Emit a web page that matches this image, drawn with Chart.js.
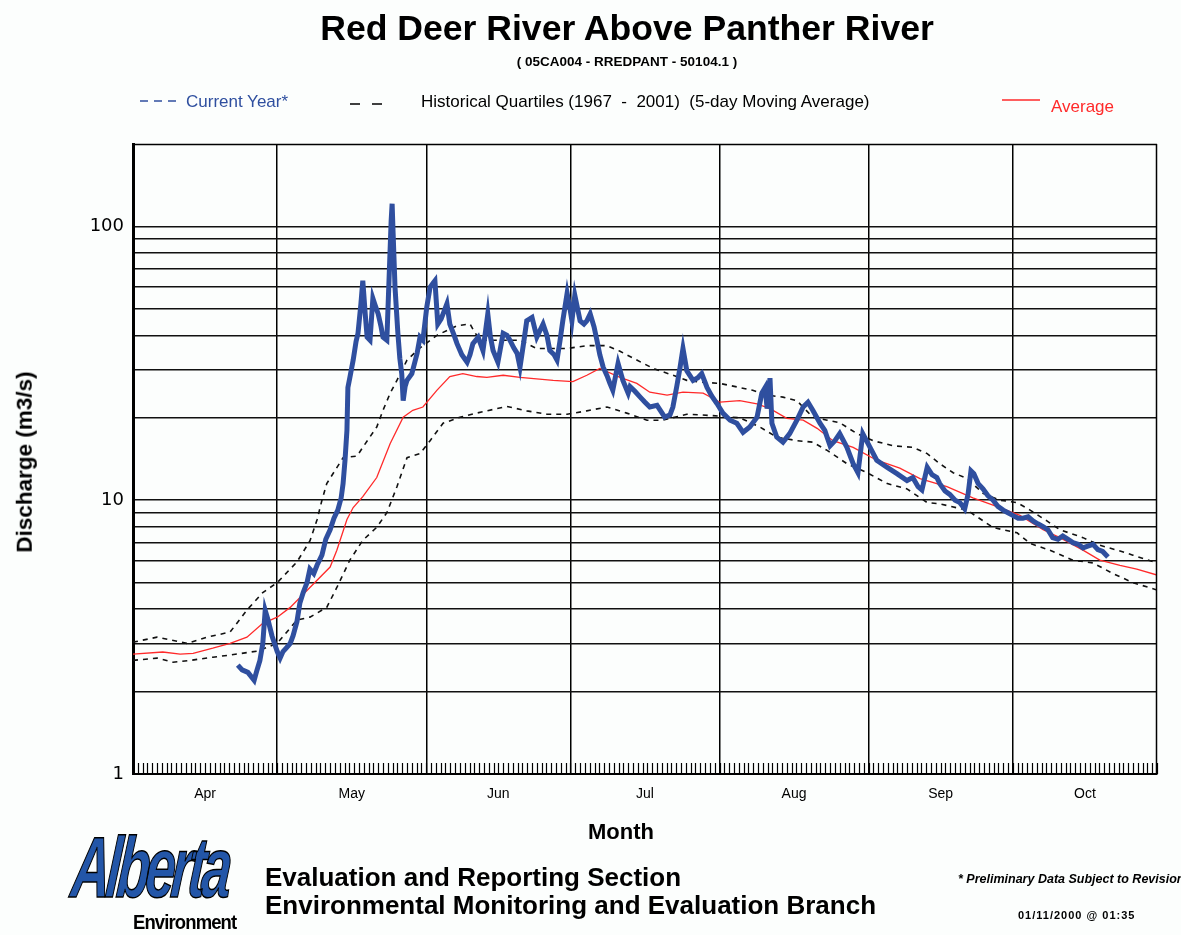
<!DOCTYPE html>
<html>
<head>
<meta charset="utf-8">
<title>Red Deer River Above Panther River</title>
<script src="https://cdn.jsdelivr.net/npm/chart.js@4.4.1/dist/chart.umd.min.js"></script>
<style>
  html, body { margin: 0; padding: 0; background: #fcfefd; }
  #page { position: relative; width: 1181px; height: 935px; overflow: hidden; background: #fcfefd; }
  #chart { position: absolute; left: 0; top: 0; }
  .txt { position: absolute; white-space: nowrap; font-family: "Liberation Sans", Arial, sans-serif; color: #000; line-height: 1; }
  #title { left: 0; width: 1254px; text-align: center; top: 11px; font-size: 35.6px; font-weight: bold; }
  #subtitle { left: 0; width: 1254px; text-align: center; top: 55px; font-size: 13.5px; font-weight: bold; transform: scaleY(0.9); }
  .legend { top: 93px; font-size: 17px; }
  #ylabel { left: 25px; top: 462px; font-size: 22.5px; font-weight: bold; transform: translate(-50%, -50%) rotate(-90deg); }
  #xlabel { left: 0; width: 1242px; text-align: center; top: 821px; font-size: 22px; font-weight: bold; }
  .section { left: 265px; font-size: 26px; font-weight: bold; }
  #logo { left: 76px; top: 824px; font-size: 86px; font-style: italic; font-weight: bold; color: #2356a8;
          -webkit-text-stroke: 1.5px #000; letter-spacing: -7px; transform-origin: left top; transform: scaleX(0.63) skewX(-8deg); }
  #env { left: 133px; top: 911px; font-size: 21px; font-weight: bold; letter-spacing: -1px; transform-origin: left top; transform: scaleX(0.88); }
  #prelim { left: 958px; top: 873px; font-size: 12.5px; font-style: italic; font-weight: bold; }
  #stamp { left: 1018px; top: 910px; font-size: 11px; font-weight: bold; letter-spacing: 1px; }
  svg.key { position: absolute; left: 0; top: 0; }
</style>
</head>
<body>
<div id="page">
  <canvas id="chart" width="1181" height="935"></canvas>

  <div class="txt" id="title">Red Deer River Above Panther River</div>
  <div class="txt" id="subtitle">( 05CA004 - RREDPANT - 50104.1 )</div>

  <svg class="key" width="1181" height="130">
    <line x1="140" y1="101" x2="176" y2="101" stroke="#2f4f9f" stroke-width="1.5" stroke-dasharray="8,6"/>
    <line x1="350" y1="104" x2="383" y2="104" stroke="#000" stroke-width="1.6" stroke-dasharray="10,12"/>
    <line x1="1002" y1="100" x2="1040" y2="100" stroke="#ff2a2a" stroke-width="1.6"/>
  </svg>
  <div class="txt legend" style="left:186px;color:#2f4f9f;">Current Year*</div>
  <div class="txt legend" style="left:421px;">Historical Quartiles (1967&nbsp; - &nbsp;2001)&nbsp; (5-day Moving Average)</div>
  <div class="txt legend" style="left:1051px;top:98px;color:#ff2a2a;">Average</div>

  <div class="txt" id="ylabel">Discharge (m3/s)</div>
  <div class="txt" id="xlabel">Month</div>

  <div class="txt" id="logo">Alberta</div>
  <div class="txt" id="env">Environment</div>
  <div class="txt section" style="top:864px;">Evaluation and Reporting Section</div>
  <div class="txt section" style="top:892px;">Environmental Monitoring and Evaluation Branch</div>
  <div class="txt" id="prelim">* Preliminary Data Subject to Revision</div>
  <div class="txt" id="stamp">01/11/2000 @ 01:35</div>
</div>

<script>
// Days are counted from 1 April (day 0) to 31 October (day 213).
const monthStartDays = [0, 30, 61, 91, 122, 153, 183, 213];
const monthNames = ['Apr', 'May', 'Jun', 'Jul', 'Aug', 'Sep', 'Oct'];

// Log-axis gridlines and the decades that carry a label.
const yGridValues = [1, 2, 3, 4, 5, 6, 7, 8, 9, 10, 20, 30, 40, 50, 60, 70, 80, 90, 100, 200];
const yLabelValues = [1, 10, 100];

// Current year discharge (m3/s)
const currentDays = [
  // late April - early May rise
  21.8, 22.7, 23.9, 25.2, 25.8, 26.4, 27.0, 27.5, 28.1, 28.9, 30.0, 30.6, 31.2, 32.0, 32.7, 33.3,
  34.1, 34.7, 35.4, 36.2, 36.8, 37.6, 38.3, 39.3, 40.1, 41.0, 41.8, 42.6, 43.3,
  // freshet: mid May - early September
  43.7, 44.1, 44.5, 44.7, 45.1, 45.8, 46.4, 46.8, 47.4, 47.8,
  48.3, 48.7, 49.3, 49.9, 50.3, 51.0, 51.6, 52.0, 52.8, 53.2,
  53.7, 53.9, 54.1, 54.5, 55.1, 55.5, 55.9, 56.2, 56.6, 57.0,
  58.0, 59.1, 59.7, 60.3, 61.1, 61.8, 62.4, 62.8, 63.4, 64.1,
  64.5, 65.3, 65.9, 66.8, 67.4, 68.4, 69.5, 70.1, 70.7, 71.8,
  72.8, 73.8, 74.3, 74.9, 75.9, 77.0, 77.8, 78.4, 79.2, 79.9,
  80.5, 81.3, 81.9, 83.0, 84.0, 85.3, 86.1, 86.7, 87.6, 88.2,
  88.8, 89.4, 90.3, 90.9, 91.3, 91.9, 93.0, 93.8, 94.4, 95.1,
  95.9, 96.5, 97.1, 97.8, 98.6, 99.2, 99.8, 100.9, 101.9, 103.0,
  103.4, 104.4, 105.5, 106.5, 107.5, 109.0, 110.6, 111.7, 112.3, 113.1,
  113.8, 114.4, 115.2, 116.5, 117.5, 118.3, 119.4, 120.4, 121.5, 122.7,
  124.2, 125.6, 126.9, 128.3, 129.8, 130.8, 131.5, 131.9, 132.5, 132.9,
  133.9, 135.2, 136.6, 138.1, 139.4, 140.4, 141.4, 142.9, 143.9, 145.0,
  146.0, 147.0, 148.5, 149.8, 150.8, 151.8, 152.9, 154.7, 156.8, 158.9,
  161.0, 162.2, 163.3, 164.1, 165.2, 166.2, 167.2,
  // September - October recession
  167.8, 168.9, 169.9, 171.0, 172.0, 173.0, 173.7, 174.3, 174.9, 175.8,
  176.8, 177.8, 178.9, 179.9, 181.0, 182.0, 183.0, 184.1, 185.1, 186.2,
  187.2, 188.2, 189.3, 190.3, 191.3, 192.4, 193.4, 194.5, 195.5, 196.6,
  197.6, 198.6, 199.7, 200.7, 201.7, 202.8
];
const currentFlow = [
  2.5, 2.4, 2.35, 2.2, 2.4, 2.6, 3.0, 3.96, 3.65, 3.2, 2.8, 2.65, 2.8, 2.9, 3.0, 3.2,
  3.6, 4.2, 4.6, 5.0, 5.6, 5.4, 5.8, 6.3, 7.2, 7.8, 8.6, 9.2, 10.2,

  11.5, 14, 18, 25.8, 28, 32.5, 38, 40.7, 52, 63.3,
  48, 39.4, 38.4, 54.6, 52, 47.9, 43, 39.4, 38.4, 60,
  105, 121, 95, 60, 40.7, 33, 29, 23.1, 26, 27.4,
  29, 34.4, 39.4, 38.4, 50.6, 60, 62, 63.3, 44, 46,
  47.9, 52.2, 44, 40, 37.3, 34, 31.9, 34, 37.3, 39.4,
  35.2, 47.9, 40, 35.2, 31.9, 40.7, 40, 38.4, 36, 34.4,
  30.6, 38, 45.2, 46.5, 39.4, 44, 40, 35.2, 34, 32.5,
  38, 45.2, 57, 50, 45.2, 56, 45.2, 44, 45.2, 47.9,
  43, 38.4, 34, 30.6, 28.5, 26.7, 25.2, 31.6, 27.4, 24.6,
  26, 25, 23.8, 22.8, 21.9, 22.2, 20.1, 20.5, 21.9, 26,
  30.6, 35.8, 29.7, 27.4, 28, 29, 25.8, 24, 22.5, 20.8,
  19.6, 19.1, 17.7, 18.5, 20.1, 24.6, 25.8, 21.6, 27.9, 19.1,
  17.0, 16.3, 17.5, 19.6, 21.9, 22.8, 21.3, 19.1, 18.0, 15.8,
  16.5, 17.5, 15.6, 13.6, 12.6, 17.5, 16.1, 14.0, 13.2, 12.5,
  11.8, 12.1, 11.2, 10.9, 13.2, 12.4, 12.1,

  11.5, 10.8, 10.5, 10, 9.8, 9.3, 10.5, 12.8, 12.5, 11.5,
  11, 10.4, 10, 9.5, 9.2, 9.0, 8.8, 8.6, 8.6, 8.7,
  8.4, 8.2, 8.0, 7.8, 7.3, 7.2, 7.4, 7.2, 7.0, 6.9,
  6.7, 6.8, 6.9, 6.6, 6.5, 6.2
];

// Historical upper quartile, 5-day moving average (1967 - 2001)
const upperDays = [
  0, 5.0, 11.2, 15.4, 20.2, 23.7, 27.0, 30.0, 34.1, 36.8, 38.3, 39.3, 40.3, 43.7, 46.6, 47.8,
  50.7, 52.0, 53.5, 54.9, 57.0, 59.7, 63.2, 67.4, 70.1, 71.1, 72.2, 77.0, 80.5, 84.0, 90.3, 94.4,
  98.6, 101.3, 104.8, 108.2, 112.3, 115.2, 117.9, 122.1, 126.2, 128.9, 131.9, 135.2, 138.1, 141.4, 144.4, 147.0,
  150.6, 153.9, 158.1, 162.2, 165.2, 167.8, 170.6, 173.5, 176.8, 180.3, 183.9, 186.6, 190.1, 192.8, 197.6, 201.1,
  204.7, 208.0, 213
];
const upperFlow = [
  3.03, 3.16, 3.0, 3.16, 3.3, 3.97, 4.6, 5.0, 5.95, 7.1, 8.5, 10, 11.5, 14.3, 14.5, 15.6,
  18.5, 21.3, 24.6, 27.4, 32.5, 36, 40, 43.4, 44, 41, 38.4, 38.4, 38.4, 35.8, 35.8, 36.7,
  36.7, 35, 32.5, 30.3, 28.6, 27.4, 27.0, 26.7, 25.8, 25.2, 24.2, 23.8, 23.1, 20.1, 19.6, 19.2,
  17.5, 16.5, 15.8, 15.6, 14.8, 13.6, 12.6, 12.0, 10.6, 10.0, 9.8, 9.2, 8.4, 7.8, 7.3, 6.85,
  6.57, 6.3, 5.9
];

// Historical lower quartile, 5-day moving average (1967 - 2001)
const lowerDays = [
  0, 5.0, 8.3, 11.9, 16.6, 20.2, 25.8, 30.0, 34.1, 36.8, 40.3, 42.4, 45.1, 47.8, 50.7, 52.8,
  54.9, 57.0, 59.7, 61.8, 64.5, 68.0, 71.5, 73.6, 77.8, 81.9, 86.1, 90.3, 94.4, 98.6, 102.7, 106.9,
  110.2, 115.2, 120.0, 126.2, 130.4, 133.9, 138.1, 141.4, 144.4, 148.5, 152.7, 156.9, 161.0, 165.2, 167.8, 173.5,
  178.9, 183.9, 186.6, 190.7, 195.5, 199.7, 203.8, 208.0, 213
];
const lowerFlow = [
  2.6, 2.65, 2.56, 2.6, 2.67, 2.72, 2.81, 3.0, 3.65, 3.74, 4.06, 4.8, 6.04, 7.14, 7.96, 9.0,
  11.2, 14.3, 14.8, 16.5, 19.1, 20.1, 20.8, 21.2, 22.0, 21.2, 20.6, 20.6, 21.2, 21.9, 20.8, 19.6,
  19.6, 20.6, 20.4, 20.0, 18.5, 17.0, 16.5, 16.3, 15.2, 13.6, 12.6, 11.5, 11.0, 9.8, 9.7, 9.2,
  7.95, 7.6, 6.95, 6.57, 6.04, 5.9, 5.4, 5.0, 4.7
];

// Long-term average discharge
const avgDays = [
  0, 6.2, 9.8, 12.5, 16.6, 20.2, 23.7, 27.0, 30.0, 32.7, 36.8, 41.0, 42.4, 44.5, 45.8, 47.8,
  50.7, 53.5, 56.2, 58.2, 60.3, 63.2, 65.9, 68.6, 71.5, 73.6, 77.0, 80.5, 87.4, 91.5, 94.4, 97.1,
  101.3, 104.8, 107.5, 111.1, 114.4, 118.6, 122.1, 126.2, 129.8, 132.5, 136.0, 139.4, 142.3, 145.6, 149.8, 154.7,
  159.5, 163.7, 169.3, 174.7, 178.9, 184.5, 189.3, 192.8, 197.6, 201.1, 205.3, 208.8, 213
];
const avgFlow = [
  2.74, 2.79, 2.74, 2.76, 2.88, 3.0, 3.16, 3.55, 3.74, 4.06, 4.8, 5.7, 6.57, 8.5, 9.4, 10.3,
  12.1, 16.1, 20.1, 21.3, 21.9, 25.2, 28.3, 29.0, 28.3, 28.1, 28.6, 28.1, 27.4, 27.1, 28.6, 30.3,
  28.1, 26.7, 24.8, 24.2, 24.8, 24.6, 22.8, 23.1, 22.5, 21.6, 19.9, 19.6, 18.3, 16.5, 15.6, 14.0,
  13.1, 12.0, 11.2, 10.2, 9.6, 8.8, 7.8, 7.3, 6.57, 6.04, 5.78, 5.6, 5.33
];

const toPoints = (xs, ys) => xs.map((d, i) => ({ x: d, y: ys[i] }));

// Month labels sit midway between consecutive month boundaries.
const monthLabelDays = monthNames.map((_, i) => (monthStartDays[i] + monthStartDays[i + 1]) / 2);

// Plot frame (top / right edges) and the daily minor ticks along the bottom.
const framePlugin = {
  id: 'frame',
  afterDatasetsDraw(chart) {
    const { ctx, chartArea: a, scales: { x } } = chart;
    ctx.save();
    ctx.strokeStyle = '#000';
    ctx.lineWidth = 1.5;
    ctx.beginPath();
    ctx.moveTo(a.left, a.top + 0.5);
    ctx.lineTo(a.right, a.top + 0.5);
    ctx.moveTo(a.right - 0.5, a.top);
    ctx.lineTo(a.right - 0.5, a.bottom);
    ctx.stroke();
    ctx.lineWidth = 1.2;
    ctx.beginPath();
    for (let d = x.min; d <= x.max; d++) {
      const px = Math.round(x.getPixelForValue(d)) + 0.5;
      ctx.moveTo(px, a.bottom);
      ctx.lineTo(px, a.bottom - 11);
    }
    ctx.stroke();
    ctx.restore();
  }
};

const quartileStyle = {
  borderColor: '#111',
  borderWidth: 1.6,
  borderDash: [5, 5],
  pointRadius: 0,
  fill: false,
  order: 2
};

new Chart(document.getElementById('chart'), {
  type: 'line',
  data: {
    datasets: [
      { label: 'Current Year*', data: toPoints(currentDays, currentFlow), borderColor: '#2f4f9f',
        borderWidth: 5, pointRadius: 0, fill: false, order: 0, borderJoinStyle: 'miter' },
      { label: 'Average', data: toPoints(avgDays, avgFlow), borderColor: '#ff2a2a',
        borderWidth: 1.3, pointRadius: 0, fill: false, order: 1 },
      Object.assign({ label: 'Upper Quartile', data: toPoints(upperDays, upperFlow) }, quartileStyle),
      Object.assign({ label: 'Lower Quartile', data: toPoints(lowerDays, lowerFlow) }, quartileStyle)
    ]
  },
  options: {
    responsive: false,
    animation: false,
    events: [],
    layout: { padding: { top: 144, right: 24, bottom: 121, left: 0 } },
    plugins: { legend: { display: false }, tooltip: { enabled: false }, title: { display: false } },
    scales: {
      x: {
        type: 'linear',
        min: monthStartDays[0],
        max: monthStartDays[monthStartDays.length - 1],
        afterBuildTicks(scale) {
          const vals = monthStartDays.concat(monthLabelDays).sort((a, b) => a - b);
          scale.ticks = vals.map(v => ({ value: v }));
        },
        afterFit(scale) { scale.height = 40; },
        ticks: {
          autoSkip: false,
          maxRotation: 0,
          padding: 12,
          color: '#000',
          font: { family: '"Liberation Sans", Arial, sans-serif', size: 14 },
          callback(value) {
            const i = monthLabelDays.indexOf(value);
            return i >= 0 ? monthNames[i] : '';
          }
        },
        grid: {
          drawTicks: false,
          lineWidth: 1.5,
          color(ctx) {
            const v = ctx.tick && ctx.tick.value;
            const inner = monthStartDays.indexOf(v) > 0 && v < monthStartDays[monthStartDays.length - 1];
            return inner ? '#000' : 'rgba(0,0,0,0)';
          }
        },
        border: { display: true, color: '#000', width: 2 }
      },
      y: {
        type: 'logarithmic',
        min: yGridValues[0],
        max: yGridValues[yGridValues.length - 1],
        afterBuildTicks(scale) {
          scale.ticks = yGridValues.map(v => ({ value: v }));
        },
        afterFit(scale) { scale.width = 133; },
        ticks: {
          autoSkip: false,
          padding: 9,
          color: '#000',
          font: { family: '"DejaVu Sans", sans-serif', size: 18 },
          callback(value) {
            return yLabelValues.indexOf(value) >= 0 ? String(value) : '';
          }
        },
        grid: {
          drawTicks: false,
          lineWidth: 1.5,
          color(ctx) {
            const v = ctx.tick && ctx.tick.value;
            return (v > yGridValues[0] && v < yGridValues[yGridValues.length - 1]) ? '#111' : 'rgba(0,0,0,0)';
          }
        },
        border: { display: true, color: '#000', width: 3 }
      }
    }
  },
  plugins: [framePlugin]
});
</script>
</body>
</html>
